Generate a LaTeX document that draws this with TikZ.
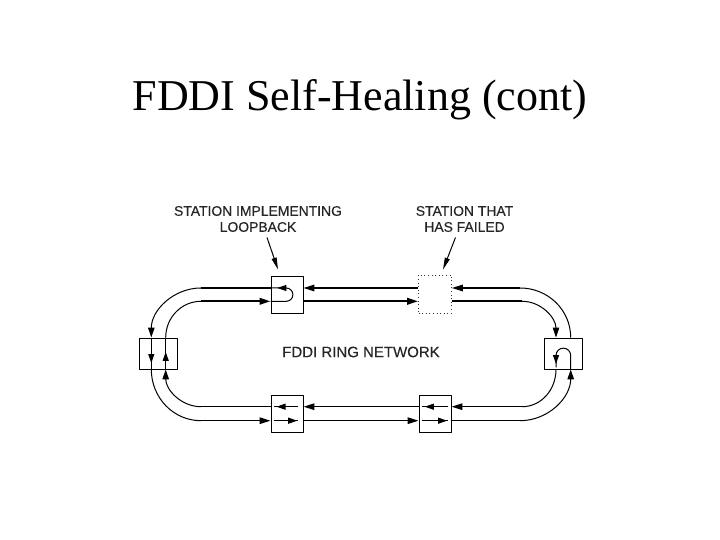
\documentclass[tikz,border=0pt]{standalone}
\usepackage{fontspec}
\setmainfont{Liberation Serif}
\newfontfamily\capfont[FakeBold=0.35]{Liberation Sans}
\usetikzlibrary{arrows.meta,calc,decorations.markings}
\tikzset{
    every picture/.style={line join=round},
    station/.style={draw=black,fill=white,line width=0.9pt,inner sep=0pt,
      minimum width=32pt,minimum height=37pt},
    sidestation/.style={draw=black,fill=white,line width=0.9pt,inner sep=0pt,
      minimum width=38pt,minimum height=31pt},
    failedstation/.style={draw=black!80,line width=0.8pt,dash pattern=on 1pt off 2.6pt,inner sep=0pt,
      minimum width=33pt,minimum height=38pt},
    caption/.style={font=\capfont\fontsize{13.9}{16}\selectfont,align=center,text=black!85},
    outerrail/.style={draw=black,line width=1.5pt},
    innerrail/.style={draw=black,line width=2.2pt},
    curverail/.style={draw=black,line width=1pt},
    looprail/.style={draw=black,line width=1pt},
    flowarrow/.style={-{Stealth[inset=0pt,length=11pt,width=6.5pt]}},
    curvearrow/.style={-{Stealth[inset=0pt,length=10pt,width=6.5pt]}},
    midarrow/.style={decoration={markings,
      mark=at position #1 with {\arrow{Stealth[inset=0pt,length=9pt,width=6pt]}}},postaction=decorate},
    pointer/.style={line width=1pt,-{Stealth[inset=0pt,length=12pt,width=5pt]}}
}
\begin{document}
\begin{tikzpicture}[x=1pt,y=1pt]
    \useasboundingbox (0,0) rectangle (720,540);
    \node[font=\fontsize{44}{48}\selectfont] (title) at (360,440) {FDDI Self-Healing (cont)};
    % stations
    \node[station] (loop) at (287,245.5) {};
    \node[failedstation] (failed) at (435,246) {};
    \node[sidestation] (west) at (158.5,186.5) {};
    \node[sidestation] (east) at (563.5,186.5) {};
    \node[station] (south) at (287,126.5) {};
    \node[station] (southeast) at (435,126.5) {};
    % rails
    \coordinate (topouter) at (0,252);
    \coordinate (topinner) at (0,238.7);
    \coordinate (botinner) at (0,133.3);
    \coordinate (botouter) at (0,119.3);
    \coordinate (leftouter) at (151.3,0);
    \coordinate (leftinner) at (165.7,0);
    \coordinate (rightinner) at (556,0);
    \coordinate (rightouter) at (570.7,0);
    \coordinate (bendnw) at (201,252);
    \coordinate (bendnwi) at (201,238.7);
    \coordinate (bendsw) at (201,119.3);
    \coordinate (bendswi) at (201,133.3);
    \coordinate (bendne) at (520,252);
    \coordinate (bendnei) at (522,238.7);
    \coordinate (bendse) at (520,119.3);
    \coordinate (bendsei) at (522,133.3);
    % top side
    \draw[outerrail] (loop.west |- topouter) -- (bendnw);
    \draw[curverail,curvearrow] (bendnw) to[out=180,in=90] (leftouter |- west.north);
    \draw[curverail] (leftinner |- west.north) to[out=90,in=180] (bendnwi);
    \draw[innerrail,flowarrow] (bendnwi) -- (loop.west |- topinner);
    \draw[outerrail,flowarrow] (failed.west |- topouter) -- (loop.east |- topouter);
    \draw[innerrail,flowarrow] (loop.east |- topinner) -- (failed.west |- topinner);
    \draw[outerrail,flowarrow] (bendne) -- (failed.east |- topouter);
    \draw[curverail] (rightouter |- east.north) to[out=90,in=0] (bendne);
    \draw[innerrail] (failed.east |- topinner) -- (bendnei);
    \draw[curverail,curvearrow] (bendnei) to[out=0,in=90] (rightinner |- east.north);
    % bottom side
    \draw[curverail] (rightinner |- east.south) to[out=-90,in=0] (bendsei);
    \draw[outerrail,flowarrow] (bendsei) -- (southeast.east |- botinner);
    \draw[outerrail,flowarrow] (southeast.west |- botinner) -- (south.east |- botinner);
    \draw[outerrail] (south.west |- botinner) -- (bendswi);
    \draw[curverail,curvearrow] (bendswi) to[out=180,in=-90] (leftinner |- west.south);
    \draw[curverail] (leftouter |- west.south) to[out=-90,in=180] (bendsw);
    \draw[outerrail,flowarrow] (bendsw) -- (south.west |- botouter);
    \draw[outerrail,flowarrow] (south.east |- botouter) -- (southeast.west |- botouter);
    \draw[outerrail] (southeast.east |- botouter) -- (bendse);
    \draw[curverail,curvearrow] (bendse) to[out=0,in=-90] (rightouter |- east.south);
    % inside the stations
    \draw[looprail,midarrow=0.8] (leftouter |- west.north) -- (leftouter |- west.south);
    \draw[looprail,midarrow=0.55] (leftinner |- west.south) -- (leftinner |- west.north);
    \draw[looprail,midarrow=0.87] (loop.west |- topinner) -- ++(15.7,0)
        arc[start angle=-90,end angle=90,radius=6.65] -- (loop.west |- topouter);
    \draw[looprail,midarrow=0.93] (rightouter |- east.south) -- ($(rightouter |- east.center)+(0,-2)$)
        arc[start angle=0,end angle=180,radius=7.35] -- ($(rightinner |- east.south)+(0,2)$);
    \draw[looprail,midarrow=0.88] ($(south.east |- botinner)+(-5,0)$) -- ($(south.west |- botinner)+(3,0)$);
    \draw[looprail,midarrow=0.95] ($(south.west |- botouter)+(3,0)$) -- ($(south.east |- botouter)+(-5,0)$);
    \draw[looprail,midarrow=0.88] ($(southeast.east |- botinner)+(-3,0)$) -- ($(southeast.west |- botinner)+(3,0)$);
    \draw[looprail,midarrow=0.95] ($(southeast.west |- botouter)+(3,0)$) -- ($(southeast.east |- botouter)+(-3,0)$);
    % labels
    \node[caption] (looplabel) at (258,321) {STATION IMPLEMENTING\\LOOPBACK};
    \node[caption] (failedlabel) at (464.5,321) {STATION THAT\\HAS FAILED};
    \node[caption,font=\capfont\fontsize{15}{17}\selectfont] (ringlabel) at (361,188) {FDDI RING NETWORK};
    \draw[pointer] (looplabel.south) ++(9,-2) coordinate (looptail) -- ($(loop.north)+(-9,6)$);
    \draw[pointer] (failedlabel.south) ++(-9,-2) coordinate (failedtail) -- ($(failed.north)+(8,5)$);
\end{tikzpicture}
\end{document}
